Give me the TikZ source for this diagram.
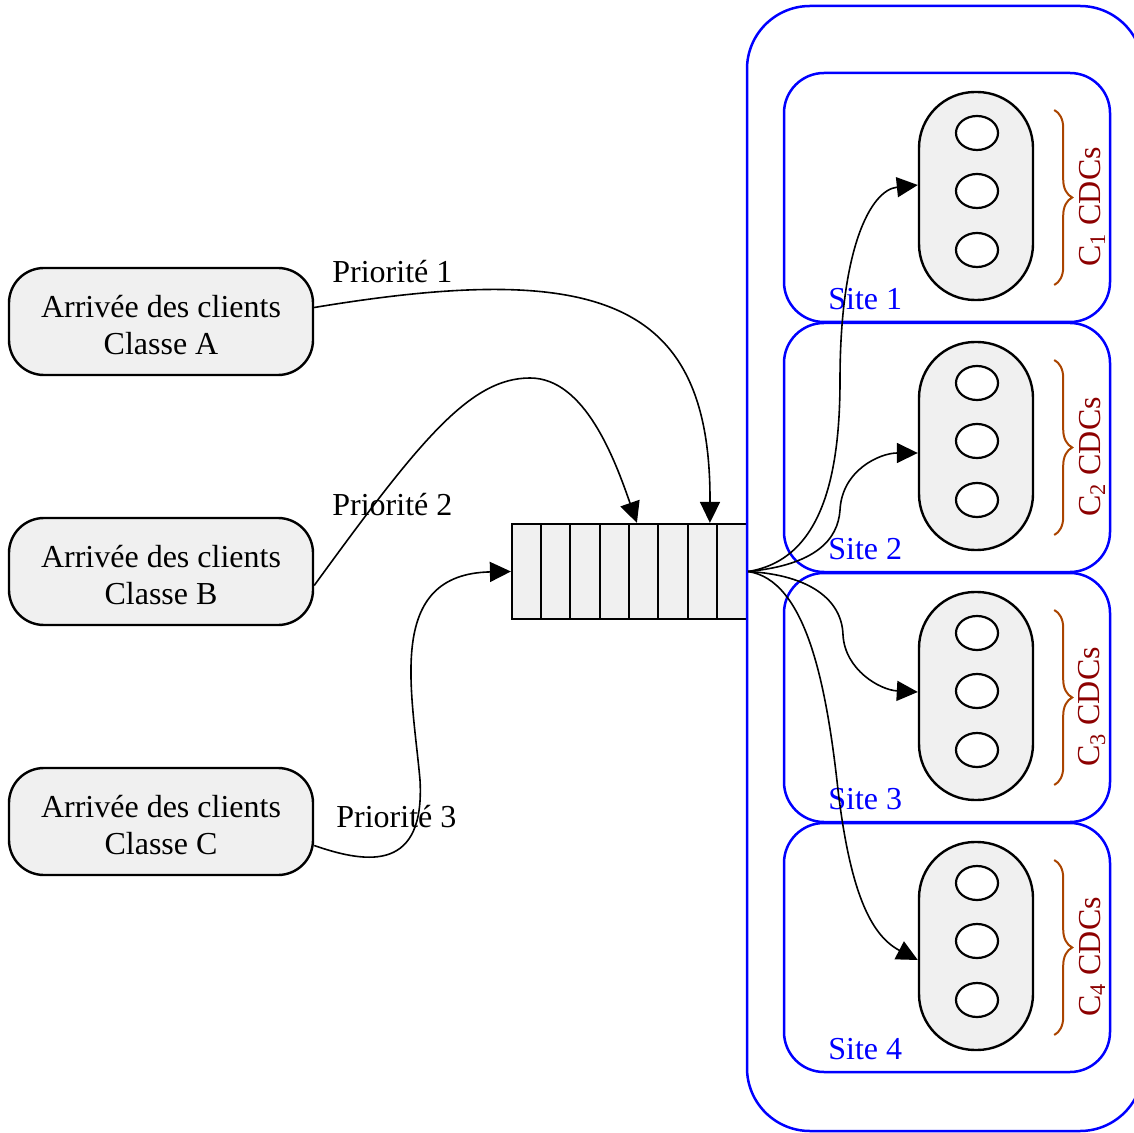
\documentclass[tikz,border=0pt]{standalone}
\usepackage{fontspec}
\setmainfont{Liberation Serif}
\usetikzlibrary{arrows.meta,calc,shapes.geometric,decorations.pathreplacing}
\definecolor{boxgray}{RGB}{240,240,240}
\definecolor{bracecol}{RGB}{170,68,0}
\definecolor{labred}{RGB}{140,0,0}
\tikzset{
 client/.style={draw, line width=1.2pt, fill=boxgray, rounded corners=17.5pt, minimum width=152pt, minimum height=53.5pt, inner sep=0pt},
 clienttext/.style={align=center, inner sep=0pt},
 queuebox/.style={draw, line width=1.1pt, fill=boxgray, minimum width=117.5pt, minimum height=47.5pt, inner sep=0pt},
 outerbox/.style={draw=blue, line width=1.25pt, rounded corners=31.5pt, minimum width=198pt, minimum height=562.5pt, inner sep=0pt},
 sitebox/.style={draw=blue, line width=1.25pt, rounded corners=20pt, minimum width=163pt, minimum height=124.5pt, inner sep=0pt},
 server/.style={draw, line width=1.2pt, fill=boxgray, rounded corners=28pt, minimum width=57pt, minimum height=104pt, inner sep=0pt},
 slot/.style={draw, line width=1.1pt, fill=white, ellipse, minimum width=21pt, minimum height=17pt, inner sep=0pt},
 conn/.style={line width=0.8pt, -{Triangle[length=10.5pt,width=10pt]}},
 prio/.style={anchor=west, inner sep=0pt},
 sitelab/.style={anchor=west, inner sep=0pt, text=blue},
 cdc/.style={rotate=90, text=labred, inner sep=0pt},
 bracedeco/.style={draw=bracecol, line width=1pt, decorate, decoration={brace, amplitude=9pt}}
}
\begin{document}
\begin{tikzpicture}[x=0.5pt,y=-0.5pt, font=\fontsize{16}{18.5}\selectfont]
\clip (0,0) rectangle (1134,1133);
\useasboundingbox (0,0) rectangle (1134,1133);

% clients
\node[client] (a) at (161,321.5) {};
\node[clienttext] (at) at ($(a.center)+(0,4)$) {Arrivée des clients\\Classe A};
\node[client] (b) at (161,571.5) {};
\node[clienttext] (bt) at ($(b.center)+(0,4)$) {Arrivée des clients\\Classe B};
\node[client] (c) at (161,821.5) {};
\node[clienttext] (ct) at ($(c.center)+(0,4)$) {Arrivée des clients\\Classe C};

% queue
\node[queuebox] (q) at (629.5,571.5) {};
\foreach \x in {541,570,600,629,658,688,717}
  \draw[line width=1.1pt] (\x,524) -- (\x,619);

% data centres
\node[outerbox] (dc) at (945,568.5) {};
\foreach \i/\cy in {1/196,2/446,3/696,4/946}{
  \node[sitebox] (site\i) at (947,\cy+1.5) {};
}
\foreach \i/\cy in {1/196,2/446,3/696,4/946}{
  \node[server] (s\i) at (976,\cy) {};
  \node[slot] (s\i a) at (977,\cy-63) {};
  \node[slot] (s\i b) at (977,\cy-5) {};
  \node[slot] (s\i c) at (977,\cy+54) {};
  \draw[bracedeco] ($(s\i.east)+(20,-86)$) -- ($(s\i.east)+(20,89)$);
  \node[cdc] (l\i) at (1092,\cy+11) {C\textsubscript{\i} CDCs};
  \node[sitelab] (t\i) at (828,\cy+103) {Site \i};
}

% priority labels
\node[prio] (p1) at (332,272) {Priorité 1};
\node[prio] (p2) at (332,505) {Priorité 2};
\node[prio] (p3) at (336,817) {Priorité 3};

% arrivals
\draw[conn] ($(a.east)+(0,-14)$) .. controls (600,260) and (711,300) .. ($(q.north west)+(199,0)$);
\draw[conn] ($(b.east)+(0,14)$) .. controls (420,440) and (470,378) .. (530,378) .. controls (585,378) and (615,460) .. ($(q.north west)+(126,0)$);
\draw[conn] ($(c.east)+(0,24)$) .. controls (370,865) and (425,870) .. (420,780) .. controls (412,690) and (385,574) .. (q.west);

% dispatch
\draw[conn] (q.east) .. controls (820,560) and (840,480) .. (840,380) .. controls (840,250) and (870,190) .. ($(s1.west)+(0,-11)$);
\draw[conn] (q.east) .. controls (815,565) and (838,540) .. (840,510) .. controls (842,470) and (880,453) .. ($(s2.west)+(0,7)$);
\draw[conn] (q.east) .. controls (810,575) and (842,600) .. (843,635) .. controls (845,670) and (880,690) .. ($(s3.west)+(0,-4)$);
\draw[conn] (q.east) .. controls (805,580) and (826,680) .. (838,790) .. controls (850,890) and (870,935) .. ($(s4.west)+(0,14)$);
\end{tikzpicture}
\end{document}
